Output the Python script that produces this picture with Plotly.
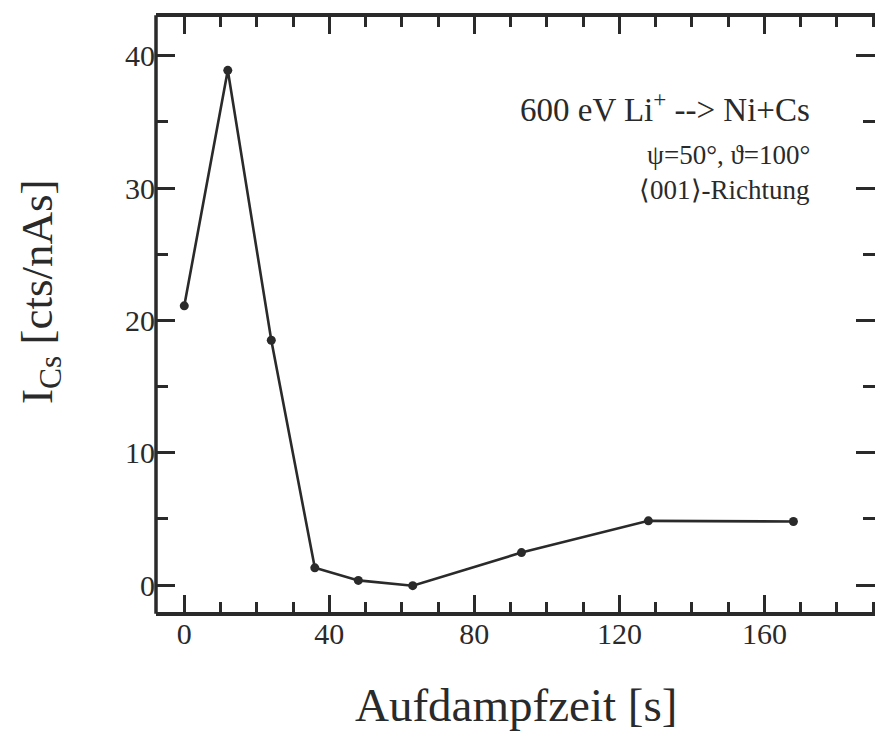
import plotly.graph_objects as go

# Data
time_s = [0, 12, 24, 36, 48, 63, 93, 128, 168]
intensity_cs = [21.1, 38.9, 18.5, 1.3, 0.35, -0.05, 2.45, 4.85, 4.8]

x_ticks = [0, 40, 80, 120, 160]
y_ticks = [0, 10, 20, 30, 40]

x_title = "Aufdampfzeit [s]"
y_title = "I<sub>Cs</sub> [cts/nAs]"
info_lines = ["600 eV Li<sup>+</sup> --> Ni+Cs", "ψ=50°, ϑ=100°", "⟨001⟩-Richtung"]

INK = "#2a2a2a"
FONT = "Liberation Serif, Times New Roman, serif"

fig = go.Figure()
fig.add_trace(go.Scatter(
    x=time_s, y=intensity_cs, mode="lines+markers",
    line=dict(color=INK, width=2.6),
    marker=dict(color=INK, size=9, symbol="circle"),
    showlegend=False, cliponaxis=False,
))

tick_common = dict(
    ticks="inside", tickcolor=INK, tickwidth=2.5,
    showgrid=False, zeroline=False,
    tickfont=dict(family=FONT, size=30, color=INK),
)

fig.update_xaxes(
    range=[-7.8, 190.5], tickvals=x_ticks, ticklen=17,
    showline=True, linecolor=INK, linewidth=3.5, mirror="ticks",
    ticklabelstandoff=-8,
    minor=dict(dtick=10, tick0=0, ticks="inside", ticklen=10, tickwidth=2.5, tickcolor=INK, showgrid=False),
    **tick_common,
)
fig.update_yaxes(
    range=[-2.04, 42.93], tickvals=y_ticks, ticklen=19,
    showline=False, mirror="ticks",
    minor=dict(dtick=5, tick0=0, ticks="inside", ticklen=12, tickwidth=2.5, tickcolor=INK, showgrid=False),
    **tick_common,
)

L, T, B = 156, 17, 122
W, H = 875, 734
ph = H - T - B
pw = W - L

# left frame line (right side of the frame lies outside the picture)
fig.add_shape(type="line", xref="paper", yref="paper", x0=0, x1=0, y0=-0.003, y1=1.003,
              line=dict(color=INK, width=3.5), layer="above")

annotations = []
annotations.append(dict(
    text=x_title, xref="paper", yref="paper", x=(516 - L) / pw, y=(612 - 705) / ph,
    xanchor="center", yanchor="middle", showarrow=False,
    font=dict(family=FONT, size=47, color=INK),
))
annotations.append(dict(
    text=y_title, xref="paper", yref="paper", x=(40 - L) / pw, y=(612 - 292) / ph,
    xanchor="center", yanchor="middle", showarrow=False, textangle=-90,
    font=dict(family=FONT, size=45, color=INK),
))
info_y = [107, 155, 190]
info_size = [33, 27, 27]
for txt, yy, sz in zip(info_lines, info_y, info_size):
    annotations.append(dict(
        text=txt, xref="paper", yref="paper", x=(812 - L) / pw, y=(612 - yy) / ph,
        xanchor="right", yanchor="middle", showarrow=False,
        font=dict(family=FONT, size=sz, color=INK),
    ))

fig.update_layout(
    width=W, height=H,
    margin=dict(l=L, r=0, t=T, b=B, pad=0),
    paper_bgcolor="white", plot_bgcolor="white",
    annotations=annotations,
)

fig.write_html("out.html")
